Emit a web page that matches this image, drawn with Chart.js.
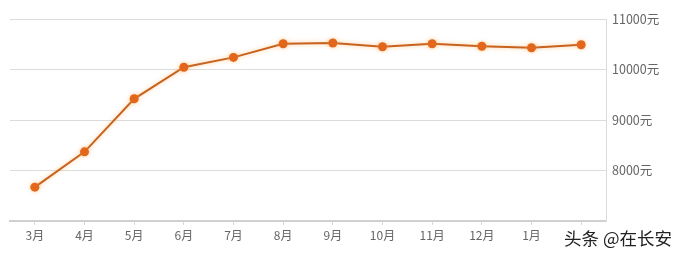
<!DOCTYPE html>
<html>
<head>
<meta charset="utf-8">
<script src="https://cdn.jsdelivr.net/npm/chart.js@4.4.1/dist/chart.umd.min.js"></script>
<style>
    html, body { margin: 0; padding: 0; background: #fff; }
    #wrap { position: relative; width: 679px; height: 259px; }
    #mark {
        position: absolute; left: 560px; top: 225px;
        font: 17.5px "Noto Sans CJK SC", sans-serif; color: #222;
        background: #fff; padding: 0 4px;
        text-shadow: 0 0 2px #fff;
    }
</style>
</head>
<body>
<div id="wrap">
    <canvas id="c" width="679" height="259"></canvas>
    <div id="mark">头条 @在长安</div>
</div>
<script>
const months = ["3月", "4月", "5月", "6月", "7月", "8月", "9月", "10月", "11月", "12月", "1月", "2月"];
const prices = [7670, 8370, 9420, 10045, 10240, 10510, 10525, 10450, 10510, 10460, 10430, 10490];
const yTicks = [7000, 8000, 9000, 10000, 11000];

const glow = {
    id: "glow",
    beforeDatasetsDraw(chart) {
        const ctx = chart.ctx;
        ctx.save();
        ctx.shadowColor = "rgba(255, 170, 80, 0.6)";
        ctx.shadowBlur = 4;
    },
    afterDatasetsDraw(chart) {
        chart.ctx.restore();
    },
};

const ctx = document.getElementById("c").getContext("2d");
new Chart(ctx, {
    type: "line",
    data: {
        labels: months,
        datasets: [
            {
                data: prices,
                borderColor: "#c8621f",
                borderWidth: 2,
                pointBackgroundColor: "#e2661b",
                pointBorderColor: "#e2661b",
                pointRadius: 4.5,
                pointBorderWidth: 0,
                tension: 0,
                fill: false,
            },
        ],
    },
    options: {
        responsive: false,
        animation: false,
        layout: { padding: { left: 10, top: 19, right: 0, bottom: 0 } },
        plugins: {
            legend: { display: false },
            tooltip: { enabled: false },
        },
        scales: {
            x: {
                offset: true,
                grid: {
                    offset: false,
                    drawOnChartArea: false,
                    color: "#d8d8d8",
                    tickLength: 4,
                },
                border: { color: "#d0d0d0", width: 2 },
                ticks: {
                    color: "#666",
                    font: { family: "Noto Sans CJK SC", size: 12 },
                    padding: 3,
                    maxRotation: 0,
                    autoSkip: false,
                },
                afterFit(axis) {
                    axis.height = 38;
                },
            },
            y: {
                position: "right",
                min: 7000,
                max: 11000,
                afterBuildTicks(axis) {
                    axis.ticks = yTicks.map((v) => ({ value: v }));
                },
                grid: { color: "#dcdcdc", tickLength: 0, lineWidth: 1 },
                border: { color: "#dcdcdc", width: 1 },
                ticks: {
                    color: "#666",
                    font: { family: "Noto Sans CJK SC", size: 12.5 },
                    padding: 6,
                    callback: (v) => (v === 7000 ? "" : v + "元"),
                },
                afterFit(axis) {
                    axis.width = 73;
                },
            },
        },
    },
    plugins: [glow],
});
</script>
</body>
</html>
